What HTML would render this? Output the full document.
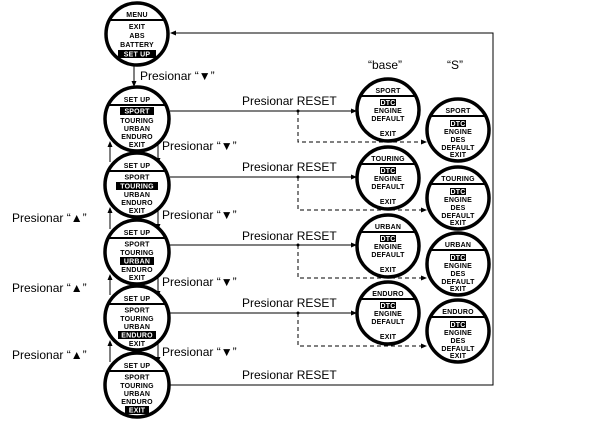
<!DOCTYPE html>
<html><head><style>
body{margin:0;background:#fff}
svg{display:block}
.l{font-family:"Liberation Sans",sans-serif;font-size:12px;fill:#000}
.s{font-family:"Liberation Sans",sans-serif;font-size:7px;font-weight:bold;fill:#000;text-anchor:middle;letter-spacing:0.2px}
.w{fill:#fff}
</style></head><body>
<svg width="605" height="425" viewBox="0 0 605 425" xmlns="http://www.w3.org/2000/svg">
<defs>
<marker id="a" markerWidth="6" markerHeight="6" refX="5" refY="3" orient="auto" markerUnits="userSpaceOnUse"><path d="M0,0.5 L6,3 L0,5.5z" fill="#000"/></marker>
</defs>
<g stroke="#000" fill="none" stroke-width="1">
<!-- right loop -->
<polyline points="167,385 493,385 493,33 171,33" marker-end="url(#a)"/>
<line x1="134" y1="66" x2="134" y2="86" marker-end="url(#a)"/>
<!-- up/down arrows -->
<line x1="110" y1="162" x2="110" y2="142" marker-end="url(#a)"/>
<line x1="110" y1="229" x2="110" y2="208" marker-end="url(#a)"/>
<line x1="110" y1="295" x2="110" y2="275" marker-end="url(#a)"/>
<line x1="110" y1="362" x2="110" y2="341" marker-end="url(#a)"/>
<line x1="158" y1="142" x2="158" y2="163" marker-end="url(#a)"/>
<line x1="158" y1="208" x2="158" y2="229" marker-end="url(#a)"/>
<line x1="158" y1="275" x2="158" y2="296" marker-end="url(#a)"/>
<line x1="158" y1="341" x2="158" y2="362" marker-end="url(#a)"/>
<!-- reset lines -->
<line x1="170" y1="111" x2="356" y2="111" marker-end="url(#a)"/>
<line x1="170" y1="177" x2="356" y2="177" marker-end="url(#a)"/>
<line x1="170" y1="245" x2="356" y2="245" marker-end="url(#a)"/>
<line x1="170" y1="313" x2="356" y2="313" marker-end="url(#a)"/>
<g stroke-dasharray="4,3">
<polyline points="298,111 298,142 426,142" marker-end="url(#a)"/>
<polyline points="298,177 298,210 426,210" marker-end="url(#a)"/>
<polyline points="298,245 298,278 426,278" marker-end="url(#a)"/>
<polyline points="298,313 298,346 426,346" marker-end="url(#a)"/>
</g>
</g>
<g fill="#000"><circle cx="298" cy="111" r="1.5"/><circle cx="298" cy="177" r="1.5"/><circle cx="298" cy="245" r="1.5"/><circle cx="298" cy="313" r="1.5"/></g>

<!-- labels -->
<text class="l" x="140" y="80">Presionar “▼”</text>
<text class="l" x="162" y="150">Presionar “▼”</text>
<text class="l" x="162" y="219">Presionar “▼”</text>
<text class="l" x="162" y="286">Presionar “▼”</text>
<text class="l" x="162" y="356">Presionar “▼”</text>
<text class="l" x="12" y="222">Presionar “▲”</text>
<text class="l" x="12" y="292">Presionar “▲”</text>
<text class="l" x="12" y="359">Presionar “▲”</text>
<text class="l" x="242" y="105">Presionar RESET</text>
<text class="l" x="242" y="171">Presionar RESET</text>
<text class="l" x="242" y="240">Presionar RESET</text>
<text class="l" x="242" y="307">Presionar RESET</text>
<text class="l" x="242" y="379">Presionar RESET</text>
<text class="l" x="368" y="69">“base”</text>
<text class="l" x="447" y="69">“S”</text>

<!-- Menu circle -->
<g transform="translate(137,34)">
<circle r="31" fill="#fff" stroke="#000" stroke-width="3.5"/>
<line x1="-29" y1="-14" x2="29" y2="-14" stroke="#000" stroke-width="2"/>
<text class="s" y="-17">MENU</text>
<text class="s" y="-5">EXIT</text>
<text class="s" y="4">ABS</text>
<text class="s" y="13">BATTERY</text>
<rect x="-19" y="16" width="38" height="8" fill="#000"/>
<text class="s w" y="22.5">SET UP</text>
</g>

<!-- Setup circles: template via repeated groups -->
<g transform="translate(137,119)">
<circle r="32" fill="#fff" stroke="#000" stroke-width="3.5"/>
<line x1="-30" y1="-14" x2="30" y2="-14" stroke="#000" stroke-width="2"/>
<text class="s" y="-17">SET UP</text>
<rect x="-17" y="-12" width="34" height="8" fill="#000"/>
<text class="s w" y="-5.5">SPORT</text>
<text class="s" y="4">TOURING</text><text class="s" y="12">URBAN</text><text class="s" y="20">ENDURO</text><text class="s" y="28">EXIT</text>
</g>
<g transform="translate(137,185)">
<circle r="32" fill="#fff" stroke="#000" stroke-width="3.5"/>
<line x1="-30" y1="-14" x2="30" y2="-14" stroke="#000" stroke-width="2"/>
<text class="s" y="-17">SET UP</text>
<text class="s" y="-5.5">SPORT</text>
<rect x="-21" y="-3" width="42" height="8" fill="#000"/>
<text class="s w" y="3.5">TOURING</text><text class="s" y="12">URBAN</text><text class="s" y="20">ENDURO</text><text class="s" y="28">EXIT</text>
</g>
<g transform="translate(137,252)">
<circle r="32" fill="#fff" stroke="#000" stroke-width="3.5"/>
<line x1="-30" y1="-14" x2="30" y2="-14" stroke="#000" stroke-width="2"/>
<text class="s" y="-17">SET UP</text>
<text class="s" y="-5.5">SPORT</text><text class="s" y="3">TOURING</text>
<rect x="-17" y="5" width="34" height="8" fill="#000"/>
<text class="s w" y="11.5">URBAN</text><text class="s" y="20">ENDURO</text><text class="s" y="28">EXIT</text>
</g>
<g transform="translate(137,318)">
<circle r="32" fill="#fff" stroke="#000" stroke-width="3.5"/>
<line x1="-30" y1="-14" x2="30" y2="-14" stroke="#000" stroke-width="2"/>
<text class="s" y="-17">SET UP</text>
<text class="s" y="-5.5">SPORT</text><text class="s" y="3">TOURING</text><text class="s" y="11">URBAN</text>
<rect x="-19" y="13" width="38" height="8" fill="#000"/>
<text class="s w" y="19.5">ENDURO</text><text class="s" y="28">EXIT</text>
</g>
<g transform="translate(137,385)">
<circle r="32" fill="#fff" stroke="#000" stroke-width="3.5"/>
<line x1="-30" y1="-14" x2="30" y2="-14" stroke="#000" stroke-width="2"/>
<text class="s" y="-17">SET UP</text>
<text class="s" y="-5.5">SPORT</text><text class="s" y="3">TOURING</text><text class="s" y="11">URBAN</text><text class="s" y="19">ENDURO</text>
<rect x="-12" y="21" width="24" height="8" fill="#000"/>
<text class="s w" y="27.5">EXIT</text>
</g>

<!-- middle column -->
<g transform="translate(388,110)">
<circle r="31" fill="#fff" stroke="#000" stroke-width="3.5"/>
<line x1="-29" y1="-14" x2="29" y2="-14" stroke="#000" stroke-width="2"/>
<text class="s" y="-17">SPORT</text>
<rect x="-8" y="-11" width="16" height="7" fill="#000"/><text class="s w" y="-5">DTC</text>
<text class="s" y="3">ENGINE</text><text class="s" y="11">DEFAULT</text><text class="s" y="26">EXIT</text>
</g>
<g transform="translate(388,178)">
<circle r="31" fill="#fff" stroke="#000" stroke-width="3.5"/>
<line x1="-29" y1="-14" x2="29" y2="-14" stroke="#000" stroke-width="2"/>
<text class="s" y="-17">TOURING</text>
<rect x="-8" y="-11" width="16" height="7" fill="#000"/><text class="s w" y="-5">DTC</text>
<text class="s" y="3">ENGINE</text><text class="s" y="11">DEFAULT</text><text class="s" y="26">EXIT</text>
</g>
<g transform="translate(388,246)">
<circle r="31" fill="#fff" stroke="#000" stroke-width="3.5"/>
<line x1="-29" y1="-14" x2="29" y2="-14" stroke="#000" stroke-width="2"/>
<text class="s" y="-17">URBAN</text>
<rect x="-8" y="-11" width="16" height="7" fill="#000"/><text class="s w" y="-5">DTC</text>
<text class="s" y="3">ENGINE</text><text class="s" y="11">DEFAULT</text><text class="s" y="26">EXIT</text>
</g>
<g transform="translate(388,313)">
<circle r="31" fill="#fff" stroke="#000" stroke-width="3.5"/>
<line x1="-29" y1="-14" x2="29" y2="-14" stroke="#000" stroke-width="2"/>
<text class="s" y="-17">ENDURO</text>
<rect x="-8" y="-11" width="16" height="7" fill="#000"/><text class="s w" y="-5">DTC</text>
<text class="s" y="3">ENGINE</text><text class="s" y="11">DEFAULT</text><text class="s" y="26">EXIT</text>
</g>

<!-- right column -->
<g transform="translate(458,130)">
<circle r="31" fill="#fff" stroke="#000" stroke-width="3.5"/>
<line x1="-29" y1="-14" x2="29" y2="-14" stroke="#000" stroke-width="2"/>
<text class="s" y="-17">SPORT</text>
<rect x="-8" y="-10" width="16" height="7" fill="#000"/><text class="s w" y="-4">DTC</text>
<text class="s" y="4">ENGINE</text><text class="s" y="12">DES</text><text class="s" y="20">DEFAULT</text><text class="s" y="27">EXIT</text>
</g>
<g transform="translate(458,198)">
<circle r="31" fill="#fff" stroke="#000" stroke-width="3.5"/>
<line x1="-29" y1="-14" x2="29" y2="-14" stroke="#000" stroke-width="2"/>
<text class="s" y="-17">TOURING</text>
<rect x="-8" y="-10" width="16" height="7" fill="#000"/><text class="s w" y="-4">DTC</text>
<text class="s" y="4">ENGINE</text><text class="s" y="12">DES</text><text class="s" y="20">DEFAULT</text><text class="s" y="27">EXIT</text>
</g>
<g transform="translate(458,264)">
<circle r="31" fill="#fff" stroke="#000" stroke-width="3.5"/>
<line x1="-29" y1="-14" x2="29" y2="-14" stroke="#000" stroke-width="2"/>
<text class="s" y="-17">URBAN</text>
<rect x="-8" y="-10" width="16" height="7" fill="#000"/><text class="s w" y="-4">DTC</text>
<text class="s" y="4">ENGINE</text><text class="s" y="12">DES</text><text class="s" y="20">DEFAULT</text><text class="s" y="27">EXIT</text>
</g>
<g transform="translate(458,331)">
<circle r="31" fill="#fff" stroke="#000" stroke-width="3.5"/>
<line x1="-29" y1="-14" x2="29" y2="-14" stroke="#000" stroke-width="2"/>
<text class="s" y="-17">ENDURO</text>
<rect x="-8" y="-10" width="16" height="7" fill="#000"/><text class="s w" y="-4">DTC</text>
<text class="s" y="4">ENGINE</text><text class="s" y="12">DES</text><text class="s" y="20">DEFAULT</text><text class="s" y="27">EXIT</text>
</g>
</svg>
</body></html>
